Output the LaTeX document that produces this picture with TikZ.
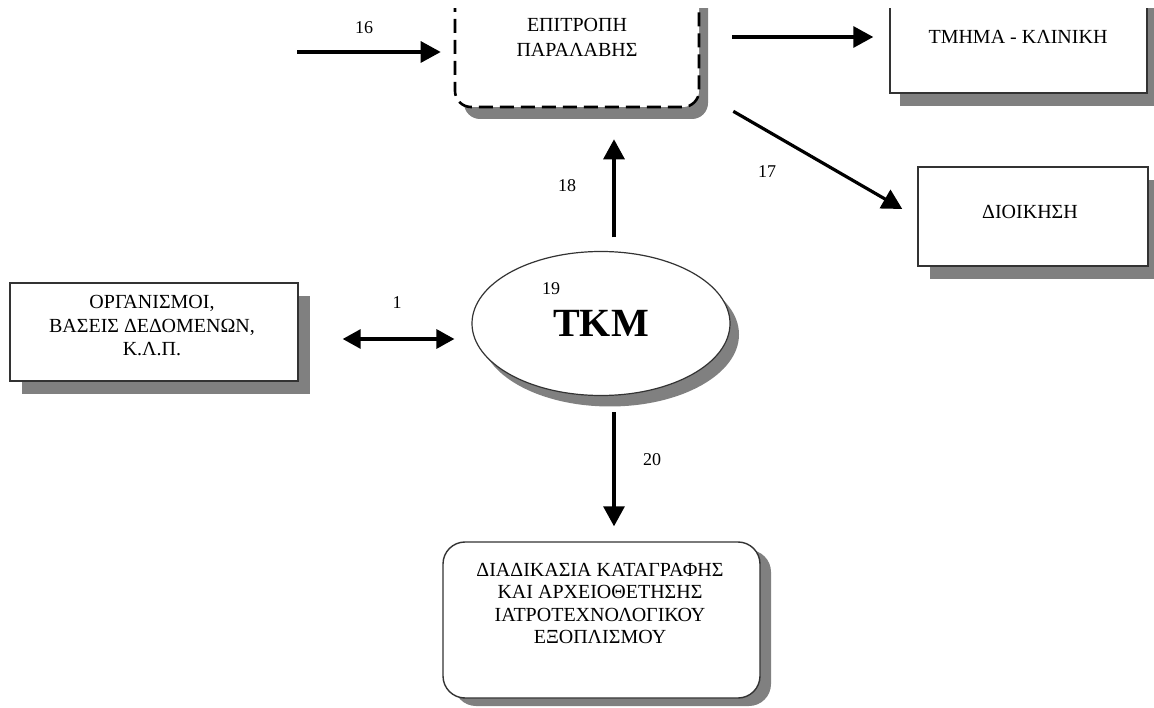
\documentclass[tikz,border=0pt]{standalone}
\usepackage{fontspec}
\setmainfont{Liberation Serif}
\usetikzlibrary{arrows.meta,calc,shapes.geometric,shadows}

\begin{document}
\begin{tikzpicture}[x=1pt,y=-1pt,
  shade box/.style={drop shadow={shadow xshift=#1, shadow yshift=-13pt, opacity=1, fill=black!50}},
  plainbox/.style={rectangle,draw=black!80,line width=1.4pt,fill=white,inner sep=0pt,shade box=12pt},
  dashbox/.style={rectangle,rounded corners=16pt,draw=black,line width=2.6pt,
    dash pattern=on 14pt off 7pt,fill=white,inner sep=0pt,
    drop shadow={shadow xshift=9pt, shadow yshift=-12pt, opacity=1, fill=black!50}},
  roundbox/.style={rectangle,rounded corners=22pt,draw=black!80,line width=1.4pt,fill=white,inner sep=0pt,
    drop shadow={shadow xshift=11pt, shadow yshift=-8pt, opacity=1, fill=black!50}},
  procnode/.style={ellipse,draw=black!80,line width=1.2pt,fill=white,inner sep=0pt,
    drop shadow={shadow xshift=9pt, shadow yshift=-11pt, opacity=1, fill=black!50}},
  flow/.style={line width=3.2pt,-{Triangle[length=20pt,width=21pt]}},
  twoway/.style={line width=3.2pt,{Triangle[length=18pt,width=19pt]}-{Triangle[length=18pt,width=19pt]}},
  num/.style={font=\fontsize{18}{20}\selectfont,inner sep=0pt},
  lbl/.style={font=\fontsize{20}{24}\selectfont,align=center,inner sep=0pt},
]
\useasboundingbox[fill=white] (0,0) rectangle (1154,708);

% boxes cut off by the upper edge of the sheet
\begin{scope}
  \clip (0,9) rectangle (1154,708);
  \node[dashbox,minimum width=244pt,minimum height=140pt] (epi) at (577,37) {};
  \node[plainbox,shade box=10pt,minimum width=257pt,minimum height=126pt] (tmima) at (1018.5,30) {};
\end{scope}
\node[lbl,font=\fontsize{20}{25}\selectfont] (epitxt) at (577,37.5) {ΕΠΙΤΡΟΠΗ\\ΠΑΡΑΛΑΒΗΣ};
\node[lbl] (tmimatxt) at (1018,37) {ΤΜΗΜΑ - ΚΛΙΝΙΚΗ};

% remaining boxes
\node[plainbox,minimum width=230pt,minimum height=99pt] (dioik) at (1033,216.5) {};
\node[lbl] (dioiktxt) at (1030,212) {ΔΙΟΙΚΗΣΗ};

\node[plainbox,minimum width=288pt,minimum height=98pt] (org) at (154,332) {};
\node[lbl,font=\fontsize{20}{23.5}\selectfont] (orgtxt) at (152,326) {ΟΡΓΑΝΙΣΜΟΙ,\\ΒΑΣΕΙΣ ΔΕΔΟΜΕΝΩΝ,\\Κ.Λ.Π.};

\node[procnode,minimum width=258pt,minimum height=144pt,font=\fontsize{40}{44}\selectfont\bfseries] (tkm) at (601,323.5) {ΤΚΜ};
\node[num] (n19) at (551,289) {19};

\node[roundbox,minimum width=317pt,minimum height=156pt] (diad) at (601.5,620) {};
\node[lbl,font=\fontsize{20}{22.3}\selectfont] (diadtxt) at (600,603.5)
  {ΔΙΑΔΙΚΑΣΙΑ ΚΑΤΑΓΡΑΦΗΣ\\ΚΑΙ ΑΡΧΕΙΟΘΕΤΗΣΗΣ\\ΙΑΤΡΟΤΕΧΝΟΛΟΓΙΚΟΥ\\ΕΞΟΠΛΙΣΜΟΥ};

% flows
\coordinate (in16) at (297,52);
\draw[flow,shorten >=13pt] (in16) -- (in16 -| epi.west);
\node[num] (n16) at (364,28) {16};

\draw[flow] ($(epi.east)+(32,0)$) -- ($(tmima.west |- epi.east)+(-16,0)$);

\draw[flow] ($(epi.south east)+(33,3)$) -- ($(dioik.west)+(-15,-7.5)$);
\node[num] (n17) at (767,172) {17};

\draw[flow] ($(tkm.north)+(13,-13.5)$) -- ($(epi.south)+(37,31)$);
\node[num] (n18) at (567,186) {18};

\draw[twoway] ($(org.east)+(44,7)$) -- ($(tkm.west)+(-17,15.5)$);
\node[num] (n1) at (397,303) {1};

\draw[flow] ($(tkm.south)+(13,16)$) -- ($(diad.north)+(12.5,-15)$);
\node[num] (n20) at (652,460) {20};
\end{tikzpicture}
\end{document}
